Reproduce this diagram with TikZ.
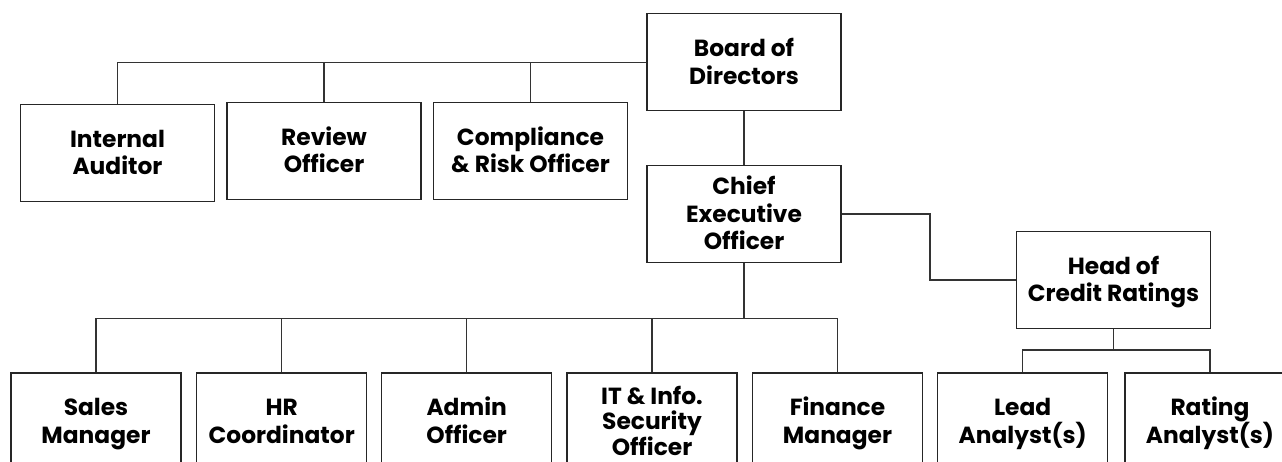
\documentclass[tikz,border=0pt]{standalone}
\usepackage{fontspec}
\setmainfont{Poppins}
% first line: height cut to the cap height; last line: no depth
\newcommand\capln[1]{\rule{0pt}{0.7em}\smash{#1}}
\newcommand\baseln[1]{\smash{#1}}
\begin{document}
\begin{tikzpicture}[x=0.75pt,y=-0.75pt,
  role/.style={draw=black!85,line width=1pt,fill=white,minimum width=145.5pt,minimum height=72.75pt,
    align=center,inner sep=0pt,font=\fontsize{17.5}{20.6}\selectfont\bfseries},
  staff/.style={role,minimum width=127.5pt},
  link/.style={draw=black!80,line width=0.9pt}]
\useasboundingbox (0,0) rectangle (1282,461);
% governance level
\node[role] (board) at (744,62.3) {\capln{Board of}\\\baseln{Directors}};
\node[role] (ia)    at (117.5,153) {\capln{Internal}\\\baseln{Auditor}};
\node[role] (rev)   at (324,151) {\capln{Review}\\\baseln{Officer}};
\node[role] (comp)  at (530.5,151) {\capln{Compliance}\\\baseln{\& Risk Officer}};
% executive level
\node[role] (ceo)   at (744,214) {\capln{Chief}\\Executive\\\baseln{Officer}};
\node[role] (head)  at (1113.5,280) {\capln{Head of}\\\baseln{Credit Ratings}};
% staff level (boxes run past the lower edge)
\node[staff] (sales) at (96,421.5) {\capln{Sales}\\\baseln{Manager}};
\node[staff] (hr)    at (281.7,421.5) {\capln{HR}\\\baseln{Coordinator}};
\node[staff] (admin) at (466.7,421.5) {\capln{Admin}\\\baseln{Officer}};
\node[staff,font=\fontsize{17.5}{19.2}\selectfont\bfseries] (it) at (652,421.5)
  {\capln{IT \& Info.}\\Security\\\baseln{Officer}};
\node[staff] (fin)   at (837.5,421.5) {\capln{Finance}\\\baseln{Manager}};
\node[staff] (lead)  at (1022.7,421.5) {\capln{Lead}\\\baseln{Analyst(s)}};
\node[staff] (rate)  at (1210,421.5) {\capln{Rating}\\\baseln{Analyst(s)}};
% bus points
\coordinate (bus) at (744,318.3);
\coordinate (elbow) at (930,214);
\coordinate (abus) at (1113.5,350);
% board to advisory roles
\draw[link] (board.west) -| (ia.north);
\draw[link] (rev.north) -- (rev.north |- board.west);
\draw[link] (comp.north) -- (comp.north |- board.west);
\draw[link] (board.south) -- (ceo.north);
% ceo to departments
\draw[link] (ceo.south) -- (bus);
\draw[link] (sales.north) -- (sales.north |- bus) -- (fin.north |- bus) -- (fin.north);
\draw[link] (hr.north) -- (hr.north |- bus);
\draw[link] (admin.north) -- (admin.north |- bus);
\draw[link] (it.north) -- (it.north |- bus);
% ceo to ratings
\draw[link] (ceo.east) -- (elbow) |- (head.west);
\draw[link] (head.south) -- (abus);
\draw[link] (lead.north) -- (lead.north |- abus) -- (rate.north |- abus) -- (rate.north);
\end{tikzpicture}
\end{document}
